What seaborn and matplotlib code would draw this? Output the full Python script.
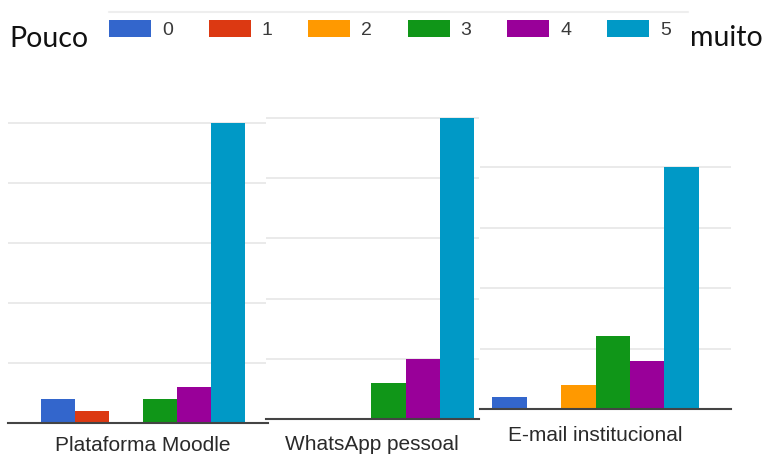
import pandas as pd
import matplotlib
matplotlib.use("Agg")
import matplotlib.pyplot as plt
import seaborn as sns

# answers 0..5 (pouco -> muito) for each channel
notas = ["0", "1", "2", "3", "4", "5"]
canais = ["Plataforma Moodle", "WhatsApp pessoal", "E-mail institucional"]
moodle = [4, 2, 0, 4, 6, 50]
whatsapp = [0, 0, 0, 6, 10, 50]
email = [2, 0, 4, 12, 8, 40]
cores = ["#3366cc", "#dc3912", "#ff9900", "#109618", "#990099", "#0099c6"]

sns.set_style("white")
plt.rcParams["font.family"] = ["Liberation Sans", "DejaVu Sans"]

W, H = 768, 455
fig = plt.figure(figsize=(W / 100, H / 100), dpi=100)


def px_axes(x0, x1, ytop, ybot):
    return fig.add_axes([x0 / W, 1 - ybot / H, (x1 - x0) / W, (ybot - ytop) / H])


# pixel boxes of the three Google-style charts, y max, x limits, label pad
paineis = [
    (canais[0], moodle, (8, 268, 120, 423), 50.5, (-0.529, 0.49), 9.5),
    (canais[1], whatsapp, (266, 479, 115, 419), 50.5, (-0.412, 0.42), 11.5),
    (canais[2], email, (480, 731, 164, 409), 40.5, (-0.448, 0.525), 12.5),
]

eixos = []
for canal, valores, box, ymax, xl, pad in paineis:
    ax = px_axes(*box)
    df = pd.DataFrame({"canal": canal, "nota": notas, "n": valores})
    sns.barplot(data=df, x="canal", y="n", hue="nota", hue_order=notas,
                palette=cores, saturation=1, ax=ax, linewidth=0, legend=True)
    ax.set_ylim(0, ymax)
    ax.set_xlim(*xl)
    ax.set_yticks(range(10, int(ymax) + 1, 10))
    ax.yaxis.grid(True, color="#e6e6e6", linewidth=1.2)
    ax.set_axisbelow(True)
    ax.tick_params(axis="y", length=0, labelleft=False)
    ax.tick_params(axis="x", length=0, pad=pad, labelsize=15, labelcolor="#2a2a2a")
    ax.set_xlabel("")
    ax.set_ylabel("")
    for s in ["top", "left", "right"]:
        ax.spines[s].set_visible(False)
    ax.spines["bottom"].set_color("#444444")
    ax.spines["bottom"].set_linewidth(1.5)
    ax.get_legend().remove()
    eixos.append(ax)

handles, labels = eixos[0].get_legend_handles_labels()
fig.legend(handles, labels, ncol=6, frameon=False, loc="center left",
           bbox_to_anchor=(109 / W, 1 - 29.5 / H), borderpad=0, borderaxespad=0,
           fontsize=14, labelcolor="#3a3a3a", handlelength=2.16, handleheight=0.98,
           handletextpad=0.57, columnspacing=1.83)

fig.add_artist(plt.Line2D([109 / W, 688 / W], [1 - 12 / H, 1 - 12 / H],
                          color="#eeeeee", linewidth=1.5))

fig.text(9 / W, 1 - 47 / H, "Pouco", fontsize=20.5, family=["Lato", "DejaVu Sans"],
         va="baseline", ha="left", color="#111111")
fig.text(763 / W, 1 - 46 / H, "muito", fontsize=20.5, family=["Lato", "DejaVu Sans"],
         va="baseline", ha="right", color="#111111")

fig.savefig("out.png", dpi=100, facecolor="white")
